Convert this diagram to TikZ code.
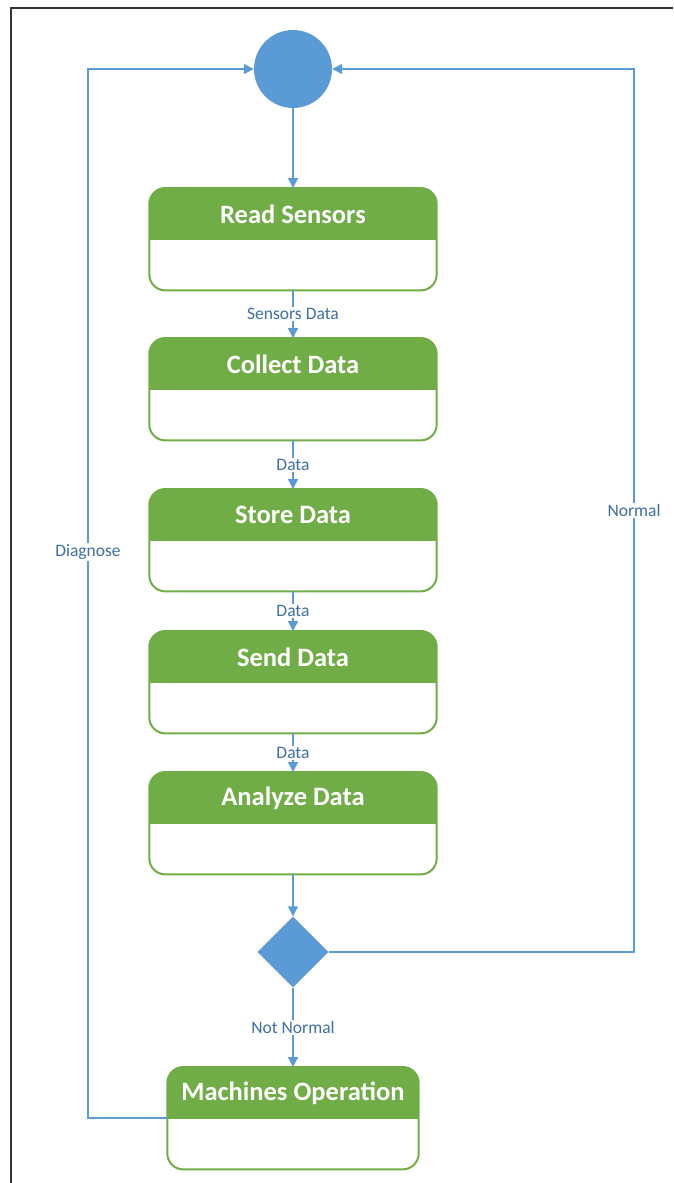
\documentclass[tikz,border=0pt]{standalone}
\usepackage{fontspec}
\setmainfont{Carlito}
\usetikzlibrary{shapes.geometric,arrows.meta}
\definecolor{ogreen}{HTML}{70AD47}
\definecolor{oblue}{HTML}{5B9BD5}
\definecolor{lbltext}{HTML}{3E6FA6}
\tikzset{
  boxshape/.style={rectangle,minimum width=287pt,minimum height=102pt,inner sep=0pt},
  boxborder/.style={draw=ogreen,line width=2pt,rounded corners=16pt},
  titletext/.style={text=white,font=\fontsize{26.5}{30}\selectfont\bfseries,inner sep=0pt},
  flow/.style={draw=oblue,line width=1.6pt,-{Triangle[length=10pt,width=10pt]}},
  lbl/.style={fill=white,text=lbltext,font=\fontsize{17.5}{20}\selectfont,inner sep=1.5pt},
}
\newcommand{\statebox}[5]{% name, cx, top, width, title
  \node[boxshape,minimum width=#4pt,anchor=north] (#1) at (#2,#3) {};
  \begin{scope}
    \clip (#1.north west) rectangle ([yshift=-51pt]#1.north east);
    \fill[ogreen,rounded corners=16pt] (#1.south west) rectangle (#1.north east);
  \end{scope}
  \draw[boxborder] (#1.south west) rectangle (#1.north east);
  \node[titletext] (#1t) at ([yshift=-26pt]#1.north) {#5};
}
\begin{document}
\begin{tikzpicture}[x=1pt,y=-1pt]
\useasboundingbox (0,0) rectangle (673,1183);
% frame
\draw[line width=2pt,black!80] (11,1183) -- (11,8) -- (673,8);
% start circle
\node[circle,fill=oblue,minimum size=78pt,inner sep=0pt] (start) at (293,69) {};
% boxes
\statebox{b1}{293}{188}{287}{Read Sensors}
\statebox{b2}{293}{338}{287}{Collect Data}
\statebox{b3}{293}{489}{287}{Store Data}
\statebox{b4}{293}{631}{287}{Send Data}
\statebox{b5}{293}{772}{287}{Analyze Data}
\statebox{b6}{293}{1067}{251}{Machines Operation}
% decision
\node[diamond,fill=oblue,minimum width=71pt,minimum height=71pt,inner sep=0pt] (dec) at (293,952) {};
% flows
\draw[flow] (start) -- (b1);
\draw[flow] (b1) -- node[lbl]{Sensors Data} (b2);
\draw[flow] (b2) -- node[lbl]{Data} (b3);
\draw[flow] (b3) -- node[lbl]{Data} (b4);
\draw[flow] (b4) -- node[lbl]{Data} (b5);
\draw[flow] (b5) -- (dec);
\draw[flow] (dec) -- node[lbl,pos=0.5]{Not Normal} (b6);
% Normal loop
\coordinate (rb) at (634,952);
\coordinate (rt) at (634,69);
\draw[flow] (dec.east) -- (rb) -- node[lbl]{Normal} (rt) -- (start.east);
% Diagnose loop
\coordinate (db6) at ([yshift=-51pt]b6.north west);
\coordinate (lb) at (88,1118);
\coordinate (lt) at (88,69);
\draw[flow] (db6) -- (lb) -- node[lbl,pos=0.54]{Diagnose} (lt) -- (start.west);
\end{tikzpicture}
\end{document}
